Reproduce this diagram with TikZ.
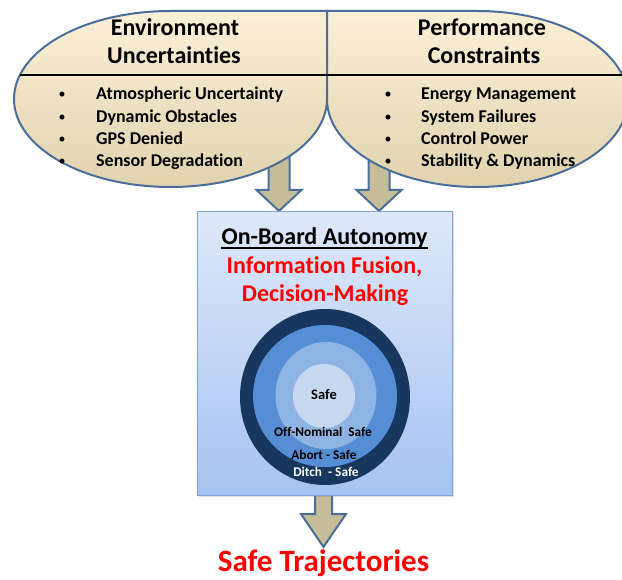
\documentclass[tikz,border=0pt]{standalone}
\usepackage{fontspec}
\setmainfont{Carlito}[Ligatures={NoCommon}]
\usetikzlibrary{calc,shadows,shapes.geometric}
\definecolor{teartop}{HTML}{FBF0D8}
\definecolor{tearbot}{HTML}{E1D3AE}
\definecolor{tearline}{HTML}{4A6E9C}
\definecolor{arrowfill}{HTML}{C4BD97}
\definecolor{boxtop}{HTML}{DEE8F9}
\definecolor{boxbot}{HTML}{A6C3F1}
\definecolor{boxline}{HTML}{7EA2DA}
\definecolor{ringA}{HTML}{17375E}
\definecolor{ringB}{HTML}{558ED5}
\definecolor{ringC}{HTML}{8EB4E3}
\definecolor{ringD}{HTML}{C6D9F1}
\definecolor{redtxt}{HTML}{FF0000}
\newcommand\blockarrow[5]{%
  \draw[blockarrow] let \p1=(#1), \p2=(#2) in
    (\x1-#3,\y1) -- (\x1-#3,\y2+#5) -- (\x1-#4,\y2+#5) -- (\x1,\y2)
    -- (\x1+#4,\y2+#5) -- (\x1+#3,\y2+#5) -- (\x1+#3,\y1) -- cycle;}
\begin{document}
\begin{tikzpicture}[x=1pt,y=-1pt,
  tear/.style={draw=tearline, line width=2pt, top color=teartop, bottom color=tearbot},
  blockarrow/.style={draw=tearline, line width=2pt, fill=arrowfill, line join=miter},
  title/.style={font=\fontsize{24}{29}\selectfont\bfseries, anchor=base, inner sep=0pt},
  item/.style={font=\fontsize{18}{22}\selectfont\bfseries, anchor=base west, inner sep=0pt},
  bul/.style={font=\fontsize{14}{17}\selectfont, anchor=base, inner sep=0pt},
  redline/.style={font=\fontsize{24}{29}\selectfont\bfseries, text=redtxt, anchor=base, inner sep=0pt},
  ringlbl/.style={font=\fontsize{13.3}{16}\selectfont\bfseries, anchor=base, inner sep=0pt},
  ring/.style={ellipse, inner sep=0pt, draw=none},
  bigbox/.style={rectangle, draw=boxline, line width=1pt, top color=boxtop, bottom color=boxbot,
     minimum width=255pt, minimum height=283pt, inner sep=0pt,
     drop shadow={opacity=0.25, shadow xshift=1.5pt, shadow yshift=-1.5pt}}
]
\useasboundingbox (0,0) rectangle (622,580);

% connector coordinates
\coordinate (envout) at (279,150);
\coordinate (envin) at (279,211);
\coordinate (perfout) at (379,150);
\coordinate (perfin) at (379,211);
\coordinate (boxout) at (323.5,490);
\coordinate (trajin) at (323.5,547);

% block arrows (behind the shapes)
\blockarrow{envout}{envin}{10.5pt}{22.5pt}{21pt}
\blockarrow{perfout}{perfin}{10.5pt}{22.5pt}{21pt}
\blockarrow{boxout}{trajin}{8.5pt}{22.5pt}{33pt}

% teardrop shapes
\path[tear] (327,11) -- (170.5,11) arc[start angle=90, end angle=360, x radius=156.5pt, y radius=88pt] -- cycle;
\path[tear] (327,11) -- (477.5,11) arc[start angle=90, end angle=-180, x radius=150.5pt, y radius=88pt] -- cycle;
\coordinate (divL) at (20,75);
\coordinate (divR) at (623,75);
\draw[line width=2pt, black] (divL) -- (divR);

% titles
\node[title] (env1) at (175,36) {Environment};
\node[title] (env2) at (174,64) {Uncertainties};
\node[title] (perf1) at (482,36) {Performance};
\node[title] (perf2) at (484,64) {Constraints};

% left items
\node[bul] (lb1) at (62,99) {•};
\node[bul] (lb2) at (62,121.3) {•};
\node[bul] (lb3) at (62,143.6) {•};
\node[bul] (lb4) at (62,166) {•};
\node[item] (li1) at (96,100) {Atmospheric Uncertainty};
\node[item] (li2) at (96,122.3) {Dynamic Obstacles};
\node[item] (li3) at (96,144.6) {GPS Denied};
\node[item] (li4) at (96,167) {Sensor Degradation};

% right items
\node[bul] (rb1) at (388,99) {•};
\node[bul] (rb2) at (388,121.3) {•};
\node[bul] (rb3) at (388,143.6) {•};
\node[bul] (rb4) at (388,166) {•};
\node[item] (ri1) at (421,100) {Energy Management};
\node[item] (ri2) at (421,122.3) {System Failures};
\node[item] (ri3) at (421,144.6) {Control Power};
\node[item] (ri4) at (421,167) {Stability \& Dynamics};

% central box
\node[bigbox] (box) at (324.5,353.5) {};
\node[title] (obt) at (324.5,244.3) {On-Board Autonomy};
\draw[line width=1.3pt, black] ([yshift=-3.8pt]obt.base west) -- ([yshift=-3.8pt]obt.base east);
\node[redline] (fus1) at (324.5,273.3) {Information Fusion,};
\node[redline] (fus2) at (325,301.7) {Decision-Making};

% rings
\node[ring, fill=ringA, minimum width=170pt, minimum height=176pt] (ringa) at (325,397) {};
\node[ring, fill=ringB, minimum width=144pt, minimum height=142pt] (ringb) at (325,396) {};
\node[ring, fill=ringC, minimum width=101pt, minimum height=107pt] (ringc) at (326,395.5) {};
\node[ring, fill=ringD, minimum width=62pt, minimum height=64pt] (ringd) at (324,396) {};

\node[ringlbl, font=\fontsize{14.5}{17}\selectfont\bfseries] (lsafe) at (324,400) {Safe};
\node[ringlbl] (loff) at (323,436.5) {Off-Nominal\ \ Safe};
\node[ringlbl] (labort) at (324,460) {Abort - Safe};
\node[ringlbl, text=white] (lditch) at (326,476.5) {Ditch\ \ - Safe};

% output
\node[anchor=base, inner sep=0pt, font=\fontsize{31}{36}\selectfont\bfseries, text=redtxt] (traj) at (323.5,571.5) {Safe Trajectories};
\end{tikzpicture}
\end{document}
